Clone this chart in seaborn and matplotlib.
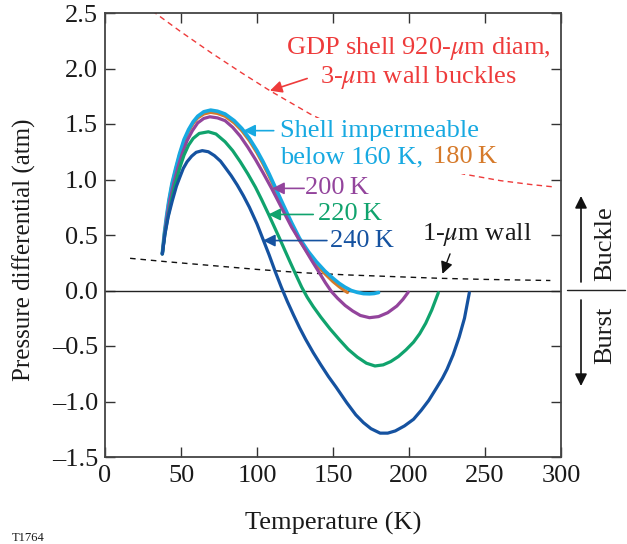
import matplotlib
matplotlib.use("Agg")
import matplotlib.pyplot as plt
from matplotlib.lines import Line2D
import seaborn as sns
import pandas as pd

# Pressure differential across the shell wall vs temperature, one curve per
# temperature above which the shell becomes permeable
t_160 = [37.7, 39, 40.5, 42, 44, 46.5, 49, 52, 55, 58, 61, 65, 69.5, 74, 79, 85, 90, 95, 100,
         104, 108, 112, 117, 122.8, 128, 133.8, 139, 144.7, 150, 154, 157.9, 162, 166, 170,
         174, 177, 180]
p_160 = [0.33, 0.51, 0.67, 0.81, 0.96, 1.10, 1.23, 1.36, 1.45, 1.52, 1.57, 1.61, 1.625, 1.615,
         1.59, 1.53, 1.46, 1.37, 1.26, 1.16, 1.05, 0.93, 0.78, 0.61, 0.47, 0.35, 0.26, 0.175,
         0.11, 0.065, 0.03, 0.0, -0.017, -0.028, -0.03, -0.027, -0.018]

t_180 = [37.7, 39, 40.5, 42, 44, 46.5, 49, 52, 55, 58, 61, 65, 69.5, 74, 79, 85, 90, 95, 100,
         104, 108, 112, 117, 122.8, 128, 133.8, 139, 144.7, 150, 154, 157, 159.5]
p_180 = [0.33, 0.50, 0.66, 0.80, 0.95, 1.09, 1.22, 1.345, 1.435, 1.505, 1.555, 1.59, 1.605,
         1.595, 1.57, 1.51, 1.44, 1.35, 1.24, 1.14, 1.03, 0.91, 0.76, 0.59, 0.45, 0.33, 0.235,
         0.15, 0.08, 0.035, 0.005, -0.018]

t_200 = [37.7, 39.3, 41, 43, 45.5, 48, 51, 54, 57.5, 61, 65, 69, 74, 79, 84, 89, 94, 99, 104,
         109.6, 116, 122.8, 129, 136, 141, 145, 149, 153, 158, 163, 168, 174, 180, 186, 192,
         196, 199.5]
p_200 = [0.33, 0.52, 0.68, 0.83, 0.98, 1.11, 1.24, 1.35, 1.44, 1.51, 1.55, 1.565, 1.555, 1.53,
         1.47, 1.39, 1.29, 1.18, 1.06, 0.92, 0.75, 0.57, 0.43, 0.27, 0.16, 0.07, -0.01, -0.07,
         -0.135, -0.185, -0.225, -0.245, -0.235, -0.20, -0.14, -0.08, -0.015]

t_220 = [37.7, 39.5, 41.5, 43.5, 46, 49.3, 52, 55, 58, 62, 68, 73, 79, 84, 89, 94, 99, 103,
         107.5, 111, 115, 118.4, 122, 126, 129.4, 133, 137, 142, 148, 154, 160, 166, 172,
         177.6, 183, 188, 193, 198, 203, 207, 211, 215, 219.3]
p_220 = [0.33, 0.52, 0.67, 0.80, 0.95, 1.11, 1.22, 1.31, 1.37, 1.415, 1.43, 1.41, 1.34, 1.26,
         1.16, 1.05, 0.93, 0.82, 0.69, 0.585, 0.465, 0.36, 0.25, 0.13, 0.03, -0.06, -0.145,
         -0.24, -0.345, -0.44, -0.53, -0.60, -0.655, -0.68, -0.67, -0.64, -0.595, -0.535,
         -0.465, -0.39, -0.295, -0.175, -0.02]

t_240 = [37.7, 39.5, 41.5, 44.3, 47, 49.5, 51.5, 54, 57, 60, 64, 68, 72, 76, 79, 83, 87, 91,
         95, 100, 104, 108, 112, 116, 120, 124, 128, 132, 137, 142, 147, 152, 159, 165, 170,
         175, 181, 186, 191, 197, 203, 208, 213, 218, 222, 225, 229, 233, 236.5, 239.7]
p_240 = [0.33, 0.51, 0.66, 0.81, 0.94, 1.03, 1.10, 1.16, 1.21, 1.245, 1.26, 1.25, 1.215, 1.165,
         1.11, 1.035, 0.95, 0.855, 0.75, 0.60, 0.46, 0.32, 0.17, 0.03, -0.10, -0.22, -0.335,
         -0.44, -0.56, -0.67, -0.775, -0.87, -1.01, -1.12, -1.19, -1.245, -1.285, -1.285,
         -1.265, -1.22, -1.16, -1.08, -0.99, -0.88, -0.79, -0.71, -0.58, -0.42, -0.25, -0.02]

# Buckling limits
t_gdp = [31, 50, 70, 90, 108.5, 135, 160, 185, 210, 235.5, 260, 280, 294]
p_gdp = [2.52, 2.33, 2.14, 1.96, 1.80, 1.59, 1.42, 1.28, 1.16, 1.05, 0.99, 0.955, 0.935]

t_wall = [16.5, 40, 70, 100, 130, 160, 190, 220, 250, 293]
p_wall = [0.29, 0.26, 0.225, 0.19, 0.16, 0.14, 0.125, 0.11, 0.10, 0.09]

x_ticks = [0, 50, 100, 150, 200, 250, 300]
y_ticks = [-1.5, -1.0, -0.5, 0.0, 0.5, 1.0, 1.5, 2.0, 2.5]

sns.set_style("ticks")
plt.rcParams["font.family"] = ["Liberation Serif", "DejaVu Serif"]
plt.rcParams["mathtext.fontset"] = "stix"

FS = 19

fig = plt.figure(figsize=(6.27, 5.44), dpi=100)
ax = fig.add_axes([105 / 627, 1 - 457 / 544, 456 / 627, 444 / 544])

c_cyan = "#17a9e1"
c_orange = "#d67a2a"
c_purple = "#93449c"
c_green = "#10a36d"
c_blue = "#1552a0"
c_red = "#ee3b3b"
c_text = "#1a1a1a"

curves = [
    (t_180, p_180, c_orange, 2.3),
    (t_160, p_160, c_cyan, 2.6),
    (t_200, p_200, c_purple, 2.3),
    (t_220, p_220, c_green, 2.3),
    (t_240, p_240, c_blue, 2.3),
]

ax.axhline(0, color="#222222", lw=1.0, zorder=1)

sns.lineplot(x=t_gdp, y=p_gdp, ax=ax, color=c_red, lw=1.0, sort=False,
             estimator=None, linestyle=(0, (4, 3)))
sns.lineplot(x=t_wall, y=p_wall, ax=ax, color="#111111", lw=1.0, sort=False,
             estimator=None, linestyle=(0, (4, 3.5)))
for t, p, c, w in curves:
    df = pd.DataFrame({"T": t, "P": p})
    sns.lineplot(data=df, x="T", y="P", ax=ax, color=c, lw=w, sort=False,
                 estimator=None)

ax.set_xlim(0, 300)
ax.set_ylim(-1.5, 2.5)
ax.set_xticks(x_ticks)
ax.set_xticklabels([str(v) for v in x_ticks])
ax.set_yticks(y_ticks)
ax.set_yticklabels([f"{v:.1f}".replace("-", "\u2013") for v in y_ticks])
ax.tick_params(direction="in", length=7, width=1.0, top=True, right=True,
               labelsize=FS, colors="#333333", labelcolor=c_text)
ax.tick_params(axis="y", pad=5)
ax.tick_params(axis="x", pad=6)
for s in ax.spines.values():
    s.set_color("#444444")
    s.set_linewidth(1.3)
ax.set_xlabel("")
ax.set_ylabel("")

fig.text(333 / 627, 1 - 523 / 544, "Temperature (K)", ha="center", va="center",
         fontsize=FS, color=c_text)
fig.text(24 / 627, 1 - 250 / 544, "Pressure differential (atm)", ha="center",
         va="center", rotation=90, fontsize=18, color=c_text)
fig.text(12 / 627, 1 - 538 / 544, "T1764", ha="left", va="center",
         fontsize=9, color=c_text)

# Annotations
arrow = dict(arrowstyle="-|>", mutation_scale=18, lw=1.2, shrinkA=0, shrinkB=0)
blank = dict(facecolor="white", edgecolor="none", pad=1.5)
blank_wide = dict(facecolor="white", edgecolor="none", pad=4)

ax.text(206, 2.05, "GDP shell 920-$\\mu$m diam,\n3-$\\mu$m wall buckles",
        ha="center", va="center", fontsize=FS, color=c_red, linespacing=1.15)
ax.annotate("", xy=(108.5, 1.80), xytext=(133, 1.91),
            arrowprops=dict(arrow, color=c_red))

ax.text(115, 1.44, "Shell impermeable", ha="left", va="center",
        fontsize=FS, color=c_cyan, bbox=blank, zorder=5)
ax.text(115, 1.20, "below 160 K,", ha="left", va="center",
        fontsize=FS, color=c_cyan, bbox=blank_wide, zorder=5)
ax.text(215.5, 1.20, "180\u2009K", ha="left", va="center",
        fontsize=FS, color=c_orange, bbox=blank_wide, zorder=5)
ax.annotate("", xy=(91, 1.44), xytext=(111, 1.44),
            arrowprops=dict(arrow, color=c_cyan))

ax.text(131.5, 0.92, "200\u2009K", ha="left", va="center", fontsize=FS, color=c_purple)
ax.annotate("", xy=(110, 0.92), xytext=(131, 0.92),
            arrowprops=dict(arrow, color=c_purple))
ax.text(140, 0.685, "220\u2009K", ha="left", va="center", fontsize=FS, color=c_green)
ax.annotate("", xy=(107.5, 0.685), xytext=(137, 0.685),
            arrowprops=dict(arrow, color=c_green))
ax.text(148, 0.45, "240\u2009K", ha="left", va="center", fontsize=FS, color=c_blue)
ax.annotate("", xy=(104, 0.45), xytext=(146, 0.45),
            arrowprops=dict(arrow, color=c_blue))

ax.text(208.5, 0.50, "1-$\\mu$m wall", ha="left", va="center", fontsize=FS,
        color=c_text)
ax.annotate("", xy=(222, 0.15), xytext=(227, 0.33),
            arrowprops=dict(arrow, color="#111111", lw=1.0))

# Buckle / burst guide outside the plot
fig.add_artist(Line2D([567 / 627, 625 / 627], [1 - 290 / 544, 1 - 290 / 544],
                      color="#222222", lw=1.0))
ax.annotate("", xy=(581 / 627, 1 - 196 / 544), xytext=(581 / 627, 1 - 282 / 544),
            xycoords="figure fraction", textcoords="figure fraction",
            arrowprops=dict(arrow, color="#111111"))
ax.annotate("", xy=(581 / 627, 1 - 386 / 544), xytext=(581 / 627, 1 - 300 / 544),
            xycoords="figure fraction", textcoords="figure fraction",
            arrowprops=dict(arrow, color="#111111"))
fig.text(605 / 627, 1 - 244 / 544, "Buckle", rotation=90, ha="center",
         va="center", fontsize=FS, color=c_text)
fig.text(605 / 627, 1 - 335 / 544, "Burst", rotation=90, ha="center",
         va="center", fontsize=FS, color=c_text)

fig.savefig("out.png", dpi=100)
